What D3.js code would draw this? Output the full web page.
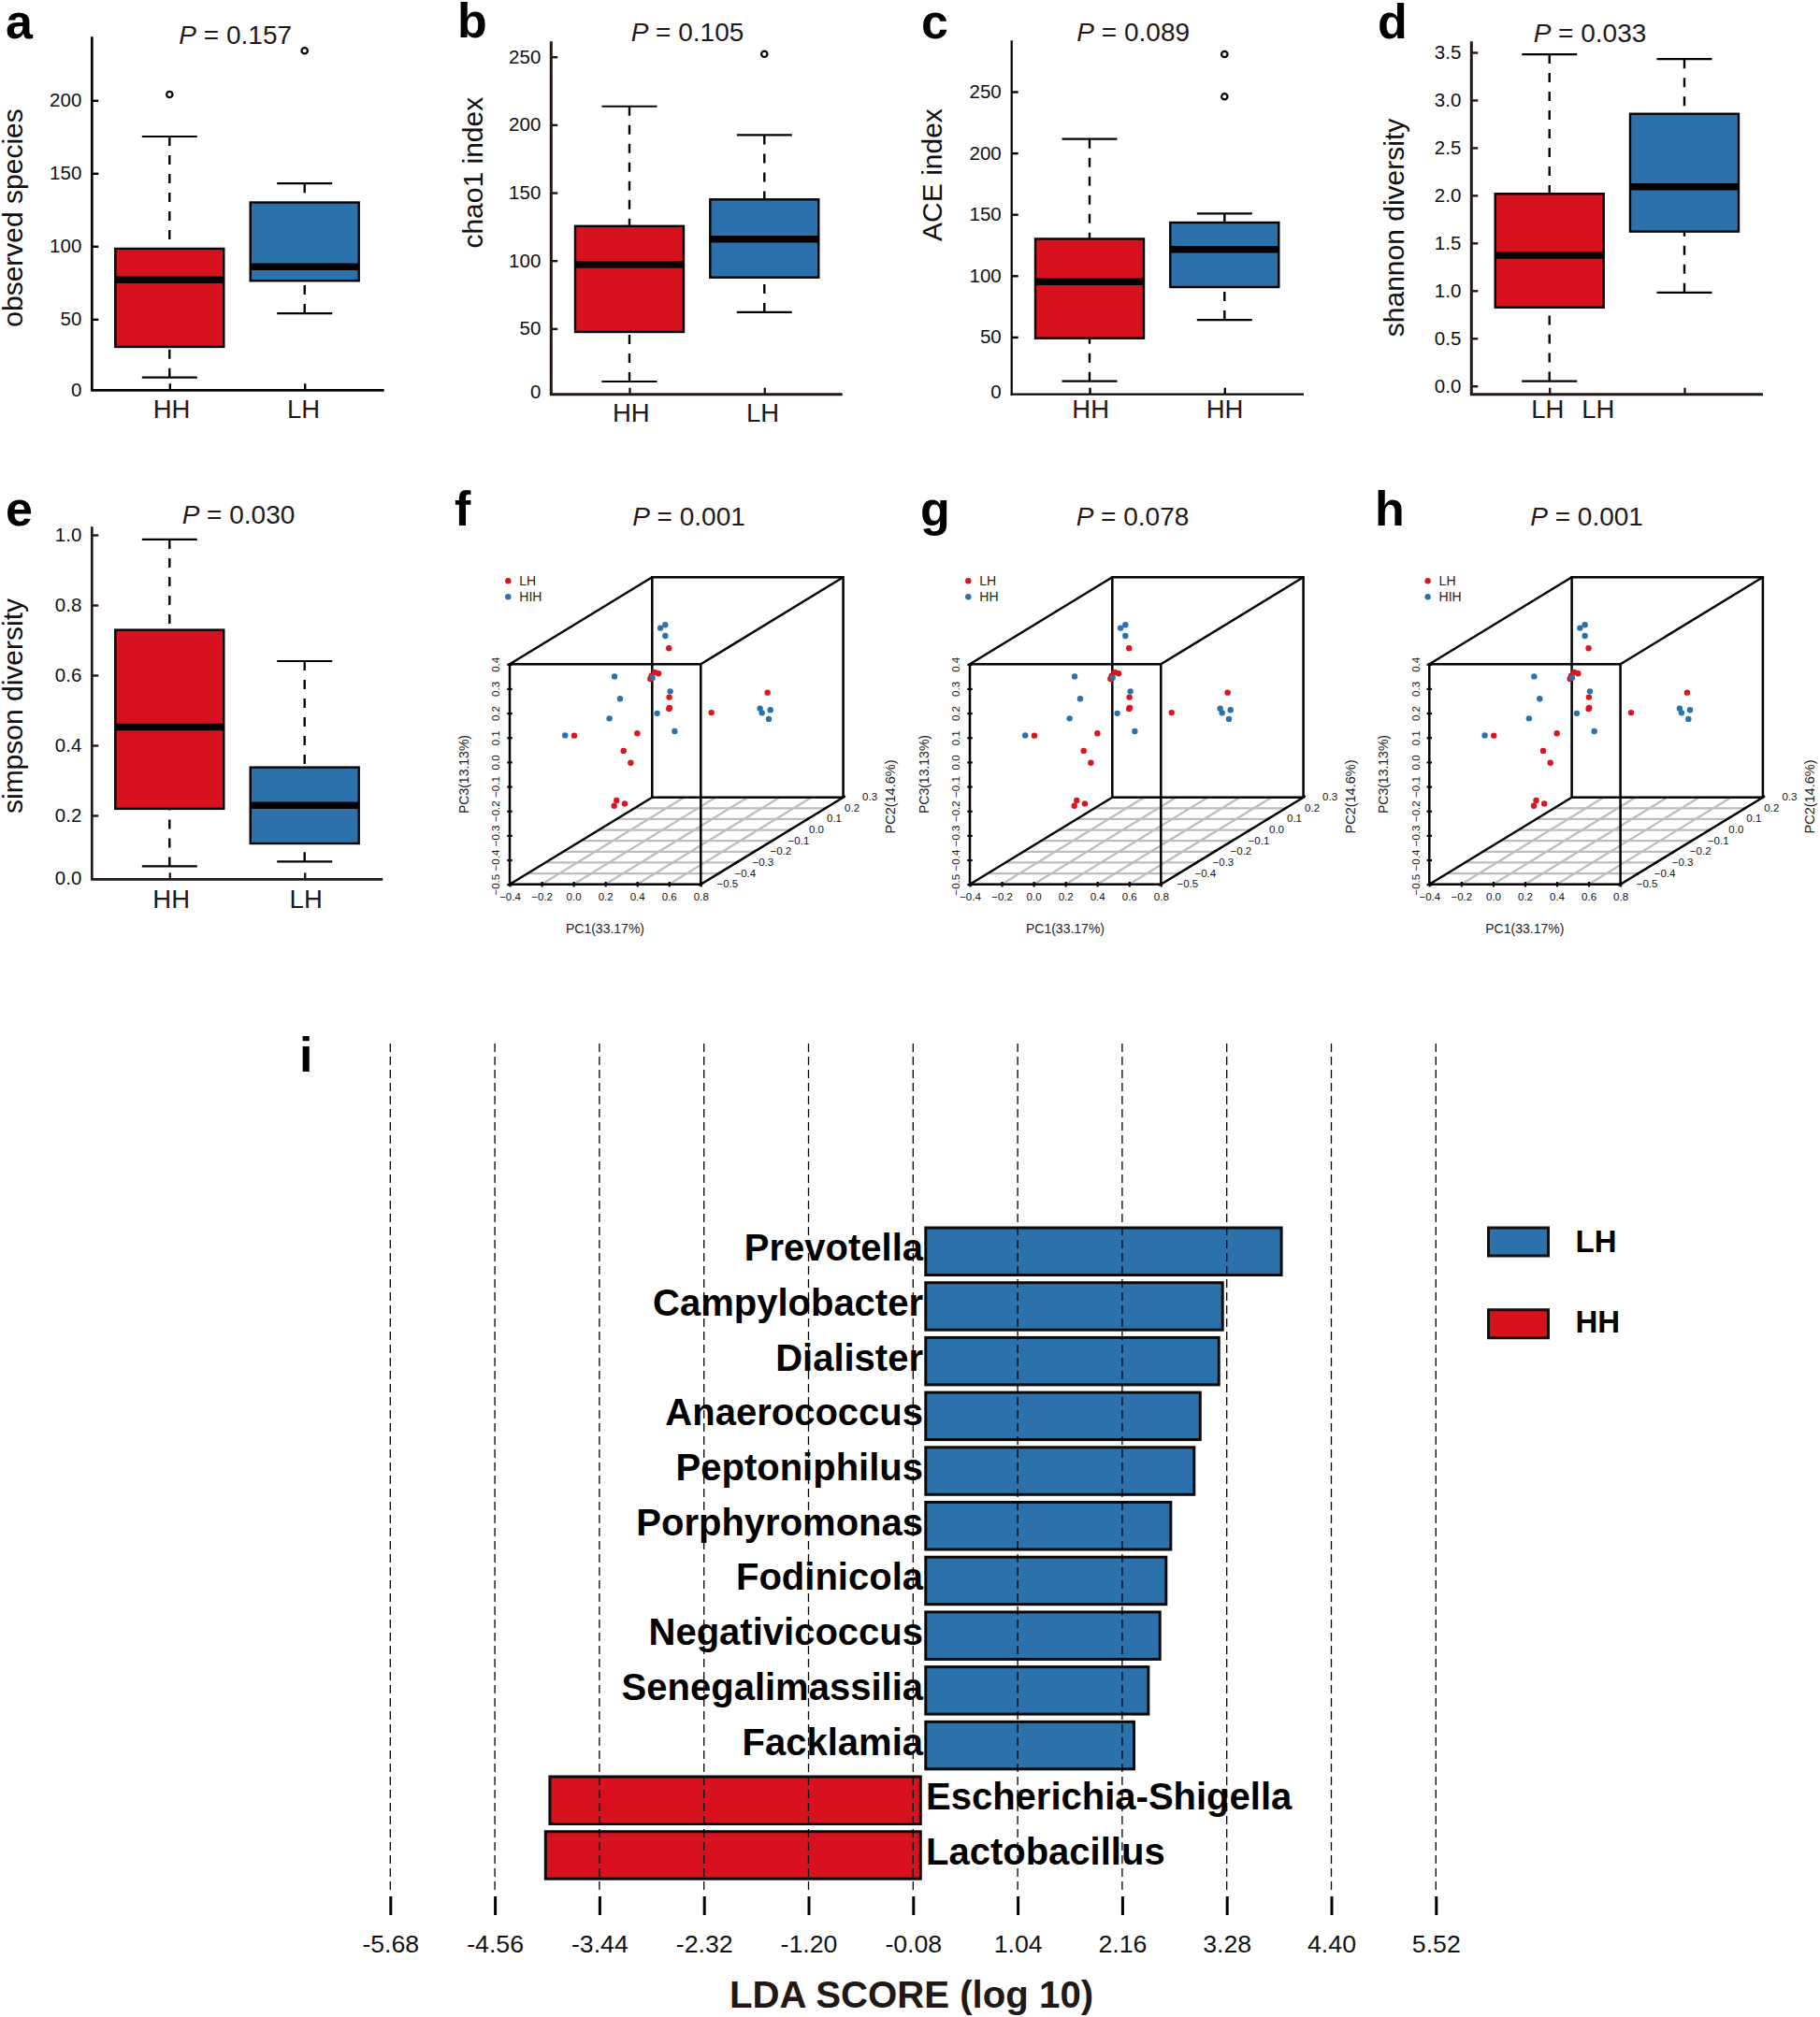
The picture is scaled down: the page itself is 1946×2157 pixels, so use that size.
<!DOCTYPE html>
<html>
<head>
<meta charset="utf-8">
<title>Microbiome diversity</title>
<script src="https://cdn.jsdelivr.net/npm/d3@7"></script>
<style>
    body { margin: 0; background: #fff; }
    text { font-family: "Liberation Sans", Arial, sans-serif; }
</style>
</head>
<body>
<svg id="chart" width="1946" height="2157"></svg>
<script>
const RED = '#d7111e';
const BLUE = '#2b72ac';
const DARK = '#231815';

// box stats are [low whisker, q1, median, q3, high whisker]
const observedBoxes = [[10, 31, 77, 98.3, 175.2], [54, 76.3, 86, 130, 143]];
const observedOutliers = [[204], [234]];
const observedTicks = [0, 50, 100, 150, 200];
const observedLabels = ['HH', 'LH'];

const chaoBoxes = [[11, 47.5, 97, 125.4, 213.5], [62, 87.6, 115.8, 145, 192.4]];
const chaoOutliers = [[], [252]];
const chaoTicks = [0, 50, 100, 150, 200, 250];
const chaoLabels = ['HH', 'LH'];

const aceBoxes = [[14, 49, 95, 130, 211.4], [64, 90.7, 121.4, 143.3, 150.7]];
const aceOutliers = [[], [246, 280.5]];
const aceTicks = [0, 50, 100, 150, 200, 250];
const aceLabels = ['HH', 'HH'];

const shannonBoxes = [[0.05, 0.824, 1.37, 2.016, 3.48], [0.98, 1.62, 2.09, 2.855, 3.43]];
const shannonOutliers = [[], []];
const shannonTicks = [0, 0.5, 1, 1.5, 2, 2.5, 3, 3.5];
const shannonLabels = ['LH', 'LH'];

const simpsonBoxes = [[0.055, 0.219, 0.452, 0.729, 0.987], [0.0685, 0.12, 0.229, 0.337, 0.64]];
const simpsonOutliers = [[], []];
const simpsonTicks = [0, 0.2, 0.4, 0.6, 0.8, 1];
const simpsonLabels = ['HH', 'LH'];

// PCoA points as they read on the front plane, PC2 depth can't be recovered from the picture
const redPc1 = [0.600, 0.510, 0.534, 0.491, 0.483, 0.602, 0.600, 0.604, 0.867, 1.219, 0.401, 0.005, 0.315, 0.360, 0.271, 0.256, 0.322];
const redPc3 = [0.465, 0.367, 0.362, 0.353, 0.340, 0.265, 0.218, 0.222, 0.202, 0.284, 0.117, 0.108, 0.046, -0.003, -0.157, -0.179, -0.170];
const bluePc1 = [0.577, 0.546, 0.577, 0.258, 0.497, 0.608, 0.293, 0.526, 0.226, 0.636, -0.052, 1.172, 1.184, 1.237, 1.227];
const bluePc3 = [0.561, 0.548, 0.516, 0.350, 0.345, 0.289, 0.259, 0.199, 0.178, 0.126, 0.109, 0.219, 0.201, 0.213, 0.176];
const pc1Ticks = [-0.4, -0.2, 0, 0.2, 0.4, 0.6, 0.8];
const pc2Ticks = [-0.5, -0.4, -0.3, -0.2, -0.1, 0, 0.1, 0.2, 0.3];
const pc3Ticks = [-0.5, -0.4, -0.3, -0.2, -0.1, 0, 0.1, 0.2, 0.3, 0.4];

const genera = ['Prevotella', 'Campylobacter', 'Dialister', 'Anaerococcus', 'Peptoniphilus', 'Porphyromonas',
    'Fodinicola', 'Negativicoccus', 'Senegalimassilia', 'Facklamia', 'Escherichia-Shigella', 'Lactobacillus'];
const ldaScores = [3.865, 3.235, 3.195, 2.995, 2.93, 2.68, 2.63, 2.564, 2.44, 2.286, -3.971, -4.017];
const ldaTicks = [-5.68, -4.56, -3.44, -2.32, -1.20, -0.08, 1.04, 2.16, 3.28, 4.40, 5.52];

const svg = d3.select('#chart');

function addText(x, y, str, size, opts = {}) {
    const t = svg.append('text')
        .attr('x', x)
        .attr('y', y)
        .attr('font-size', size)
        .attr('fill', opts.fill || '#000')
        .attr('font-weight', opts.weight || 'normal')
        .attr('text-anchor', opts.anchor || 'start')
        .text(str);
    if (opts.rotate) t.attr('transform', `rotate(-90 ${x} ${y})`);
    return t;
}

function addPValue(cx, y, value) {
    const t = addText(cx, y, '', 28, { fill: DARK, anchor: 'middle' });
    t.append('tspan').attr('font-style', 'italic').text('P');
    t.append('tspan').text(` = ${value}`);
}

function drawBoxPanel(p) {
    const g = svg.append('g');
    const y = d3.scaleLinear().domain(p.yDomain).range(p.yRange);
    const x = d3.scalePoint().domain([0, 1]).range(p.centers);

    const yAxis = g.append('g')
        .attr('transform', `translate(${p.axisX},0)`)
        .call(d3.axisLeft(y)
            .tickValues(p.ticks)
            .tickFormat(p.format)
            .tickSizeInner(-7)
            .tickSizeOuter(0)
            .tickPadding(11));
    yAxis.select('.domain').remove();
    yAxis.selectAll('line').attr('stroke', p.axisColor).attr('stroke-width', 2.4);
    yAxis.selectAll('text').attr('font-size', 20.5).attr('font-family', '"Liberation Sans"').attr('fill', '#111');
    if (p.zeroShift) {
        // zero sits on the drawn baseline in the picture, not on the extrapolated scale
        yAxis.selectAll('.tick').filter(d => d === 0).select('line').remove();
        yAxis.selectAll('.tick').filter(d => d === 0).select('text').attr('y', p.zeroShift);
    }

    const xAxis = g.append('g')
        .attr('transform', `translate(0,${p.baseY})`)
        .call(d3.axisBottom(x)
            .tickFormat(i => p.labels[i])
            .tickSizeInner(-7)
            .tickSizeOuter(0)
            .tickPadding(p.labelPad));
    xAxis.select('.domain').remove();
    xAxis.selectAll('line').attr('stroke', p.axisColor).attr('stroke-width', 2.4);
    xAxis.selectAll('text')
        .attr('font-size', 27.5)
        .attr('font-family', '"Liberation Sans"')
        .attr('fill', DARK)
        .attr('x', (d, i) => p.labelDx[i]);

    g.append('line')
        .attr('x1', p.axisX).attr('x2', p.axisX)
        .attr('y1', p.topY).attr('y2', p.baseY + 1)
        .attr('stroke', p.axisColor).attr('stroke-width', p.axisWidth);
    g.append('line')
        .attr('x1', p.axisX - 1).attr('x2', p.rightX)
        .attr('y1', p.baseY).attr('y2', p.baseY)
        .attr('stroke', p.axisColor).attr('stroke-width', p.axisWidth);

    const boxHalf = 58;
    const capHalf = 29.5;
    p.boxes.forEach((b, i) => {
        const cx = x(i);
        const [low, q1, med, q3, high] = b;
        [[high, q3], [low, q1]].forEach(([from, to]) => {
            g.append('line')
                .attr('x1', cx).attr('x2', cx)
                .attr('y1', y(from)).attr('y2', y(to))
                .attr('stroke', '#000').attr('stroke-width', 2.4)
                .attr('stroke-dasharray', '10 10');
        });
        [low, high].forEach(v => {
            g.append('line')
                .attr('x1', cx - capHalf).attr('x2', cx + capHalf)
                .attr('y1', y(v)).attr('y2', y(v))
                .attr('stroke', '#000').attr('stroke-width', 2.2);
        });
        g.append('rect')
            .attr('x', cx - boxHalf)
            .attr('y', y(q3))
            .attr('width', boxHalf * 2)
            .attr('height', y(q1) - y(q3))
            .attr('fill', i === 0 ? RED : BLUE)
            .attr('stroke', '#000')
            .attr('stroke-width', 2.4);
        g.append('line')
            .attr('x1', cx - boxHalf).attr('x2', cx + boxHalf)
            .attr('y1', y(med)).attr('y2', y(med))
            .attr('stroke', '#060003').attr('stroke-width', 7.5);
        p.outliers[i].forEach(v => {
            g.append('circle')
                .attr('cx', cx)
                .attr('cy', y(v))
                .attr('r', 3.2)
                .attr('fill', '#fff')
                .attr('stroke', '#000')
                .attr('stroke-width', 2.2);
        });
    });

    addPValue(p.titleX, p.titleY, p.pValue);
    addText(p.yLabelX, p.yLabelY, p.yLabel, 30, { anchor: 'middle', rotate: true, fill: '#111' });
    addText(p.letterX, p.letterY, p.letter, 52, { weight: 'bold' });
}

[
    { letter: 'a', letterX: 6, letterY: 40.7, pValue: '0.157', titleX: 251.7, titleY: 46.7, yLabel: 'observed species', yLabelX: 24, yLabelY: 233,
      boxes: observedBoxes, outliers: observedOutliers, ticks: observedTicks, labels: observedLabels, format: d3.format('d'),
      yDomain: [0, 200], yRange: [419.3, 107.3], centers: [181.3, 325.7], axisX: 98.3, topY: 39.3, baseY: 417.3, rightX: 410.7,
      axisColor: '#000', axisWidth: 2.7, zeroShift: -2.6, labelPad: 10.5, labelDx: [1.7, -1.7] },
    { letter: 'b', letterX: 489, letterY: 40, pValue: '0.105', titleX: 735, titleY: 44, yLabel: 'chao1 index', yLabelX: 516, yLabelY: 184.7,
      boxes: chaoBoxes, outliers: chaoOutliers, ticks: chaoTicks, labels: chaoLabels, format: d3.format('d'),
      yDomain: [0, 250], yRange: [424, 60.7], centers: [673, 817.3], axisX: 589.3, topY: 44.3, baseY: 421.7, rightX: 900.7,
      axisColor: DARK, axisWidth: 3, zeroShift: -4.7, labelPad: 9.5, labelDx: [1.3, -2.3] },
    { letter: 'c', letterX: 985, letterY: 40.7, pValue: '0.089', titleX: 1211.7, titleY: 44, yLabel: 'ACE index', yLabelX: 1006.7, yLabelY: 187,
      boxes: aceBoxes, outliers: aceOutliers, ticks: aceTicks, labels: aceLabels, format: d3.format('d'),
      yDomain: [0, 250], yRange: [426, 98], centers: [1165, 1309.3], axisX: 1081.7, topY: 43.3, baseY: 421.7, rightX: 1394,
      axisColor: '#000', axisWidth: 2.2, zeroShift: -6.7, labelPad: 5.5, labelDx: [0.7, -0.3] },
    { letter: 'd', letterX: 1473, letterY: 40.7, pValue: '0.033', titleX: 1700, titleY: 44.7, yLabel: 'shannon diversity', yLabelX: 1500.5, yLabelY: 243.5,
      boxes: shannonBoxes, outliers: shannonOutliers, ticks: shannonTicks, labels: shannonLabels, format: d3.format('.1f'),
      yDomain: [0, 3.5], yRange: [412.7, 56], centers: [1656.7, 1801], axisX: 1573.3, topY: 44.3, baseY: 421.7, rightX: 1885,
      axisColor: DARK, axisWidth: 3, zeroShift: 0, labelPad: 6, labelDx: [-2.4, -92.7] },
    { letter: 'e', letterX: 6, letterY: 561.7, pValue: '0.030', titleX: 255, titleY: 560, yLabel: 'simpson diversity', yLabelX: 24, yLabelY: 755,
      boxes: simpsonBoxes, outliers: simpsonOutliers, ticks: simpsonTicks, labels: simpsonLabels, format: d3.format('.1f'),
      yDomain: [0, 1], yRange: [947, 572], centers: [181.3, 325.7], axisX: 98.3, topY: 563.3, baseY: 940.3, rightX: 409.3,
      axisColor: DARK, axisWidth: 2.7, zeroShift: -7.7, labelPad: 11, labelDx: [1.4, 1] }
].forEach(drawBoxPanel);

function drawPcoaPanel(p) {
    const g = svg.append('g').attr('transform', `translate(${p.dx},0)`);
    const left = 545, right = 749.3, top = 710.3, bottom = 945.7;
    const x = d3.scaleLinear().domain([-0.4, 0.8]).range([left, right]);
    const z = d3.scaleLinear().domain([-0.5, 0.4]).range([bottom, top]);
    // depth runs up and to the right along the floor diagonal
    const depthX = d3.scaleLinear().domain([-0.5, 0.3]).range([0, 152.3]);
    const depthY = d3.scaleLinear().domain([-0.5, 0.3]).range([0, -93]);

    g.append('g').selectAll('line')
        .data(pc2Ticks.filter(d => d > -0.5 && d < 0.3))
        .join('line')
        .attr('x1', d => left + depthX(d))
        .attr('x2', d => right + depthX(d))
        .attr('y1', d => bottom + depthY(d))
        .attr('y2', d => bottom + depthY(d))
        .attr('stroke', '#bdbdbd').attr('stroke-width', 2.2);
    g.append('g').selectAll('line')
        .data(pc1Ticks.filter(d => d > -0.4 && d < 0.8))
        .join('line')
        .attr('x1', d => x(d))
        .attr('x2', d => x(d) + depthX(0.3))
        .attr('y1', bottom)
        .attr('y2', bottom + depthY(0.3))
        .attr('stroke', '#bdbdbd').attr('stroke-width', 2.2);

    const backDx = depthX(0.3), backDy = depthY(0.3);
    const boxStyle = s => s.attr('fill', 'none').attr('stroke', '#000').attr('stroke-width', 2.5);
    g.append('rect').attr('x', left + backDx).attr('y', top + backDy)
        .attr('width', right - left).attr('height', bottom - top).call(boxStyle);
    g.append('rect').attr('x', left).attr('y', top)
        .attr('width', right - left).attr('height', bottom - top).call(boxStyle);
    [[left, top], [right, top], [left, bottom], [right, bottom]].forEach(([cx, cy]) => {
        g.append('line')
            .attr('x1', cx).attr('y1', cy)
            .attr('x2', cx + backDx).attr('y2', cy + backDy)
            .call(boxStyle);
    });

    const xAxis = g.append('g')
        .attr('transform', `translate(0,${bottom})`)
        .call(d3.axisBottom(x).tickValues(pc1Ticks).tickFormat(d3.format('.1f')).tickSize(2.7).tickPadding(6.7));
    xAxis.select('.domain').remove();
    xAxis.selectAll('line').attr('y1', -2.7).attr('stroke', '#000').attr('stroke-width', 2.2);
    xAxis.selectAll('text').attr('font-size', 11.5).attr('font-family', '"Liberation Sans"').attr('fill', '#111');

    const zAxis = g.append('g')
        .attr('transform', `translate(${left},0)`)
        .call(d3.axisLeft(z).tickValues(pc3Ticks).tickFormat(d3.format('.1f')).tickSize(2.7));
    zAxis.select('.domain').remove();
    zAxis.selectAll('line').attr('x1', 2.7).attr('stroke', '#000').attr('stroke-width', 2.2);
    zAxis.selectAll('text')
        .attr('x', 0).attr('y', 0).attr('dy', 0)
        .attr('font-size', 11.5).attr('font-family', '"Liberation Sans"').attr('fill', '#111')
        .attr('text-anchor', 'middle')
        .attr('transform', 'translate(-10.7,0) rotate(-90)');

    g.append('g').selectAll('line')
        .data(pc2Ticks)
        .join('line')
        .attr('x1', d => right + depthX(d) - 2.2)
        .attr('x2', d => right + depthX(d) + 2.2)
        .attr('y1', d => bottom + depthY(d) + 1.4)
        .attr('y2', d => bottom + depthY(d) - 1.4)
        .attr('stroke', '#000').attr('stroke-width', 2.2);
    g.append('g').selectAll('text')
        .data(pc2Ticks)
        .join('text')
        .attr('x', d => right + depthX(d) + 28.5)
        .attr('y', d => bottom + depthY(d) + 3.5)
        .attr('text-anchor', 'middle')
        .attr('font-size', 11.5)
        .attr('fill', '#111')
        .text(d3.format('.1f'));

    const dots = (xs, ys, color) => {
        g.append('g').selectAll('circle')
            .data(xs)
            .join('circle')
            .attr('cx', d => x(d))
            .attr('cy', (d, i) => z(ys[i]))
            .attr('r', 3.2)
            .attr('fill', color);
    };
    dots(redPc1, redPc3, '#dc1420');
    dots(bluePc1, bluePc3, BLUE);

    g.append('circle').attr('cx', 543.3).attr('cy', 621.3).attr('r', 3.2).attr('fill', '#dc1420');
    g.append('circle').attr('cx', 543.3).attr('cy', 638.3).attr('r', 3.2).attr('fill', BLUE);
    const label = (lx, ly, str, size, rotate) => {
        const t = g.append('text').attr('x', lx).attr('y', ly).attr('font-size', size).attr('fill', '#222').text(str);
        if (rotate) t.attr('text-anchor', 'middle').attr('transform', `rotate(-90 ${lx} ${ly})`);
        return t;
    };
    label(555.3, 626, 'LH', 14);
    label(555.3, 643.3, p.group, 14);
    label(647, 997.7, 'PC1(33.17%)', 14).attr('text-anchor', 'middle');
    label(500.7, 828, 'PC3(13.13%)', 14, true);
    label(957, 852, 'PC2(14.6%)', 14.5, true);

    addPValue(p.titleX, 562, p.pValue);
    addText(p.letterX, 561.7, p.letter, 52, { weight: 'bold' });
}

[
    { dx: 0, letter: 'f', letterX: 486, titleX: 736.5, pValue: '0.001', group: 'HIH' },
    { dx: 492, letter: 'g', letterX: 984, titleX: 1211, pValue: '0.078', group: 'HH' },
    { dx: 983.3, letter: 'h', letterX: 1470, titleX: 1696.6, pValue: '0.001', group: 'HIH' }
].forEach(drawPcoaPanel);

// LDA bars
const ldaX = d3.scaleLinear().domain([-5.68, 5.52]).range([417.3, 1535.3]);
const ldaY = d3.scaleBand().domain(genera).range([1313, 2009.2]).paddingInner(0.14).paddingOuter(0);
const barGap = 5.5;

svg.append('g').selectAll('rect')
    .data(genera)
    .join('rect')
    .attr('x', (d, i) => ldaScores[i] > 0 ? ldaX(0) + barGap : ldaX(ldaScores[i]))
    .attr('y', d => ldaY(d))
    .attr('width', (d, i) => ldaScores[i] > 0 ? ldaX(ldaScores[i]) - ldaX(0) - barGap : ldaX(0) - ldaX(ldaScores[i]))
    .attr('height', ldaY.bandwidth())
    .attr('fill', (d, i) => ldaScores[i] > 0 ? BLUE : RED)
    .attr('stroke', '#0a0a0a')
    .attr('stroke-width', 3);

svg.append('g').selectAll('line')
    .data(ldaTicks)
    .join('line')
    .attr('x1', d => ldaX(d))
    .attr('x2', d => ldaX(d))
    .attr('y1', 1116)
    .attr('y2', 2021.7)
    .attr('stroke', '#000')
    .attr('stroke-width', 1.3)
    .attr('stroke-dasharray', '9 5');

const ldaAxis = svg.append('g')
    .attr('transform', 'translate(0,2028)')
    .call(d3.axisBottom(ldaX)
        .tickValues(ldaTicks)
        .tickFormat(d3.format('.2f'))
        .tickSizeInner(20)
        .tickSizeOuter(0)
        .tickPadding(21));
ldaAxis.select('.domain').remove();
ldaAxis.selectAll('line').attr('stroke', '#000').attr('stroke-width', 3);
ldaAxis.selectAll('text').attr('font-size', 26.7).attr('font-family', '"Liberation Sans"').attr('fill', '#111');
// the picture prints plain hyphens on this axis
ldaAxis.selectAll('text').text(d => d3.format('.2f')(d).replace('\u2212', '-'));

genera.forEach((name, i) => {
    const positive = ldaScores[i] > 0;
    addText(positive ? 987 : 990, ldaY(name) + ldaY.bandwidth() / 2 + 10, name, 40, {
        weight: 'bold',
        anchor: positive ? 'end' : 'start'
    });
});

addText(974.5, 2147, 'LDA SCORE (log 10)', 40.2, { weight: 'bold', anchor: 'middle', fill: DARK });
addText(320, 1146, 'i', 52, { weight: 'bold' });

[['LH', BLUE, 1313, 1339], ['HH', RED, 1400.7, 1424.5]].forEach(([name, color, rectY, textY]) => {
    svg.append('rect')
        .attr('x', 1591.5).attr('y', rectY)
        .attr('width', 64).attr('height', 30)
        .attr('fill', color)
        .attr('stroke', '#111')
        .attr('stroke-width', 3);
    addText(1684.5, textY, name, 33, { weight: 'bold' });
});
</script>
</body>
</html>
